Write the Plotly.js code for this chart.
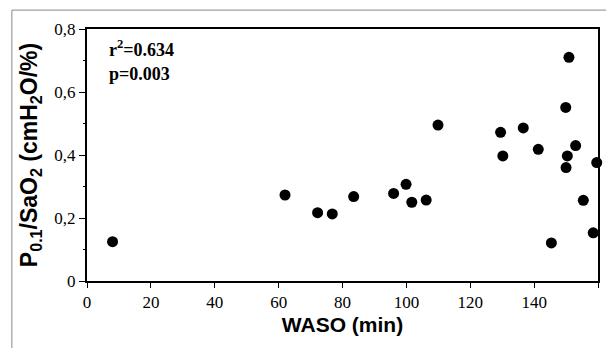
<!DOCTYPE html>
<html><head><meta charset="utf-8">
<script src="https://cdn.plot.ly/plotly-3.0.1.min.js"></script>
<style>html,body{margin:0;padding:0;background:#fff}#chart{width:606px;height:348px}</style>
</head><body><div id="chart"></div>
<script>
const wasoMin = [8.0, 62.0, 72.2, 76.8, 83.5, 96.0, 99.9, 101.7, 106.2, 109.9, 129.5, 130.2, 136.6, 141.3, 145.4, 149.9, 150.4, 150.0, 150.9, 153.0, 155.4, 158.5, 159.6];
const p01SaO2 = [0.125, 0.273, 0.217, 0.213, 0.268, 0.278, 0.307, 0.250, 0.257, 0.495, 0.472, 0.397, 0.486, 0.418, 0.121, 0.551, 0.397, 0.360, 0.710, 0.430, 0.256, 0.153, 0.376];
const xTickVals = [0, 20, 40, 60, 80, 100, 120, 140, 160];
const xTickText = ["0", "20", "40", "60", "80", "100", "120", "140", "160"];
const yTickVals = [0, 0.2, 0.4, 0.6, 0.8];
const yTickText = ["0", "0,2", "0,4", "0,6", "0,8"];
const yMinorVals = [0.1, 0.3, 0.5, 0.7];

const SERIF = 'Liberation Serif, Times New Roman, serif';
const SANS = 'Liberation Sans, Arial, sans-serif';
const trace = {
  x: wasoMin, y: p01SaO2, type: 'scatter', mode: 'markers',
  marker: {color: '#000', size: 11}, cliponaxis: false, hoverinfo: 'skip'
};
const layout = {
  width: 606, height: 348,
  margin: {l: 87, r: 8, t: 29, b: 67},
  paper_bgcolor: '#fff', plot_bgcolor: '#fff',
  showlegend: false,
  font: {family: SERIF, color: '#000', size: 17},
  xaxis: {
    range: [0, 160], tickmode: 'array', tickvals: xTickVals, ticktext: xTickText,
    showgrid: false, zeroline: false, showline: true, linecolor: '#000', linewidth: 2, mirror: true,
    ticks: 'outside', ticklen: 5, tickcolor: '#000', tickwidth: 1,
    tickfont: {family: SERIF, size: 17, color: '#000'},
    title: {text: 'WASO (min)', font: {family: SANS, size: 21, color: '#000', weight: 'bold'}, standoff: 6}
  },
  yaxis: {
    range: [0, 0.8], tickmode: 'array', tickvals: yTickVals, ticktext: yTickText,
    showgrid: false, zeroline: false, showline: true, linecolor: '#000', linewidth: 2, mirror: true,
    ticks: 'outside', ticklen: 6, tickcolor: '#000', tickwidth: 1,
    tickfont: {family: SERIF, size: 17, color: '#000'},
    title: {text: 'P<sub>0.1</sub>/SaO<sub>2</sub> (cmH<sub>2</sub>O/%)', font: {family: SANS, size: 23, color: '#000', weight: 'bold'}, standoff: 10}
  },
  annotations: [
    {xref: 'paper', yref: 'paper', x: 0.04, y: 0.975, xanchor: 'left', yanchor: 'top', showarrow: false,
     text: 'r<sup>2</sup>=0.634', font: {family: SERIF, size: 18, color: '#000', weight: 'bold'}},
    {xref: 'paper', yref: 'paper', x: 0.04, y: 0.87, xanchor: 'left', yanchor: 'top', showarrow: false,
     text: 'p=0.003', font: {family: SERIF, size: 18, color: '#000', weight: 'bold'}}
  ],
  shapes: [
    {type: 'line', xref: 'paper', yref: 'paper', x0: -0.147, x1: 1.02, y0: 1.075, y1: 1.075, line: {color: '#888', width: 1}},
    {type: 'line', xref: 'paper', yref: 'paper', x0: -0.147, x1: -0.147, y0: 1.075, y1: -0.27, line: {color: '#888', width: 1}}
  ].concat(yMinorVals.map(v => ({type: 'line', xref: 'paper', yref: 'y', x0: -0.008, x1: 0, y0: v, y1: v, line: {color: '#000', width: 1}})))
};
Plotly.newPlot('chart', [trace], layout, {displayModeBar: false, staticPlot: true}).then(function (gd) {
  gd.querySelectorAll('.xtick text, .ytick text').forEach(function (t) {
    t.style.fontFamily = SERIF;
    t.style.fontSize = '17px';
    t.style.fill = '#000';
  });
});
</script></body></html>
